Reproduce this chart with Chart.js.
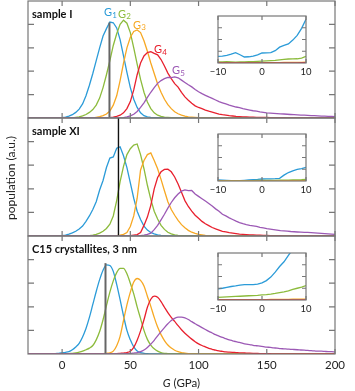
<!DOCTYPE html>
<html>
<head>
<meta charset="utf-8">
<script src="https://cdn.jsdelivr.net/npm/chart.js@4.4.1/dist/chart.umd.min.js"></script>
<style>
  html, body { margin: 0; padding: 0; background: #fff; }
  #wrap { position: relative; width: 355px; height: 391px; overflow: hidden; }
  canvas { position: absolute; }
</style>
</head>
<body>
<div id="wrap">
  <canvas id="p1"></canvas>
  <canvas id="p2"></canvas>
  <canvas id="p3"></canvas>
  <canvas id="i1"></canvas>
  <canvas id="i2"></canvas>
  <canvas id="i3"></canvas>
</div>
<script>
// grid of the histograms: G from -25 to 200 GPa, step 2.5
const gStart = -25, gEnd = 200, gStep = 2.5;
const xTickVals = [0, 50, 100, 150, 200];
const yTickVals = [1, 2, 3, 4];
const insetX = [-10, -9, -8, -7, -6, -5, -4, -3, -2, -1, 0, 1, 2, 3, 4, 5, 6, 7, 8, 9, 10];
const insetXTicks = [-10, 0, 10];
const insetYTicks = [1, 2, 3];

const panelNames = ["sample I", "sample XI", "C15 crystallites, 3 nm"];
const seriesNames = ["G1", "G2", "G3", "G4", "G5"];
const colors = ["#2b9bd8", "#8cbb3c", "#f7a823", "#e8202e", "#9c59b5"];

// vertical marker per panel (mean G1)
const markerG = [34.7, 41.3, 31.8];
const markerTop = [4.08, 5, 3.85];
const markerColor = ["#666", "#111", "#666"];

// --- sample I (start G of each array, then values every 2.5 GPa)
const s1Start = [0, 10, 25, 35, 45];
const s1G1 = [0.02,0.04,0.08,0.14,0.24,0.38,0.6,0.95,1.4,1.9,2.45,3.0,3.5,3.82,4.1,4.07,3.85,3.35,2.65,1.95,1.3,0.8,0.45,0.22,0.1,0.05,0.03,0.02,0.01];
const s1G2 = [0.03,0.05,0.09,0.15,0.24,0.36,0.55,0.85,1.3,1.85,2.45,3.1,3.6,4.0,4.18,4.05,3.65,3.0,2.3,1.65,1.1,0.68,0.4,0.22,0.12,0.07,0.04,0.03,0.02];
const s1G3 = [0.03,0.06,0.1,0.17,0.3,0.55,0.95,1.6,2.35,3.0,3.45,3.7,3.76,3.65,3.3,2.85,2.35,1.9,1.45,1.1,0.8,0.57,0.4,0.27,0.18,0.12,0.08,0.05,0.04,0.03,0.02];
const s1G4 = [0.02,0.04,0.07,0.12,0.22,0.4,0.7,1.2,1.85,2.35,2.65,2.8,2.83,2.76,2.7,2.5,2.22,1.92,1.68,1.47,1.32,1.1,0.9,0.76,0.63,0.52,0.45,0.4,0.34,0.29,0.25,0.21,0.17,0.14,0.12,0.1,0.085,0.07,0.06,0.05,0.045,0.04,0.035,0.03,0.03,0.025,0.025,0.02,0.02,0.015,0.015,0.01];
const s1G5 = [0.02,0.05,0.09,0.16,0.28,0.45,0.65,0.88,1.1,1.3,1.48,1.6,1.68,1.74,1.73,1.76,1.72,1.62,1.52,1.42,1.33,1.22,1.12,1.04,0.97,0.9,0.84,0.77,0.7,0.65,0.6,0.55,0.51,0.47,0.44,0.4,0.37,0.34,0.31,0.29,0.26,0.24,0.22,0.21,0.2,0.19,0.18,0.17,0.16,0.15,0.14,0.13,0.12,0.12,0.11,0.1,0.1,0.09,0.08,0.08,0.07,0.07,0.06];

// --- sample XI
const s2Start = [0, 20, 40, 50, 57.5];
const s2G1 = [0.02,0.04,0.08,0.13,0.2,0.3,0.42,0.62,0.85,1.12,1.45,1.95,2.35,2.9,3.3,3.35,3.72,3.78,3.4,2.9,2.25,1.6,1.05,0.7,0.42,0.25,0.15,0.09,0.05,0.03,0.02];
const s2G2 = [0.02,0.04,0.07,0.12,0.2,0.32,0.5,0.85,1.5,2.3,2.95,3.45,3.7,3.85,3.9,3.45,2.85,2.15,1.55,1.05,0.72,0.45,0.28,0.16,0.09,0.05,0.03,0.02];
const s2G3 = [0.02,0.04,0.07,0.15,0.4,0.85,1.6,2.8,3.2,3.45,3.52,3.2,2.85,2.4,1.92,1.45,1.12,0.88,0.66,0.48,0.35,0.24,0.16,0.11,0.07,0.05,0.03,0.02];
const s2G4 = [0.02,0.04,0.06,0.15,0.45,0.8,1.3,2.0,2.48,2.72,2.82,2.83,2.72,2.5,2.2,1.85,1.5,1.25,1.05,0.88,0.75,0.62,0.52,0.44,0.36,0.3,0.25,0.2,0.17,0.14,0.12,0.1,0.08,0.07,0.06,0.05,0.045,0.04,0.035,0.03,0.025,0.02,0.02,0.015,0.01];
const s2G5 = [0.02,0.04,0.07,0.12,0.27,0.45,0.68,0.92,1.18,1.42,1.62,1.78,1.9,1.95,1.92,1.93,1.78,1.68,1.58,1.48,1.38,1.27,1.15,1.05,0.92,0.85,0.77,0.7,0.63,0.57,0.52,0.48,0.45,0.43,0.41,0.37,0.34,0.31,0.29,0.27,0.25,0.23,0.22,0.21,0.19,0.18,0.17,0.16,0.15,0.15,0.14,0.13,0.12,0.11,0.1,0.09,0.08,0.07];

// --- C15 crystallites, 3 nm
const s3Start = [-5, 5, 25, 40, 45];
const s3G1 = [0.02,0.03,0.05,0.07,0.1,0.18,0.3,0.45,0.72,1.08,1.55,2.1,2.65,3.15,3.55,3.78,3.75,3.5,2.95,2.3,1.62,1.0,0.6,0.3,0.13,0.06,0.03,0.01];
const s3G2 = [0.02,0.03,0.05,0.08,0.12,0.18,0.25,0.36,0.6,0.95,1.45,2.05,2.62,3.1,3.45,3.63,3.63,3.4,3.0,2.55,2.0,1.5,1.0,0.62,0.38,0.22,0.12,0.06,0.03,0.02];
const s3G3 = [0.01,0.015,0.02,0.03,0.05,0.12,0.35,0.75,1.42,2.08,2.62,3.05,3.2,3.12,2.88,2.45,2.02,1.55,1.14,0.82,0.57,0.38,0.25,0.16,0.1,0.06,0.04,0.02];
const s3G4 = [0.02,0.03,0.04,0.06,0.12,0.28,0.58,0.98,1.45,1.98,2.32,2.45,2.4,2.22,1.98,1.75,1.55,1.38,1.2,1.03,0.88,0.75,0.63,0.52,0.43,0.36,0.3,0.24,0.2,0.16,0.13,0.11,0.09,0.08,0.07,0.06,0.05,0.045,0.04,0.035,0.03,0.025,0.02,0.02,0.015,0.01];
const s3G5 = [0.01,0.015,0.02,0.04,0.06,0.1,0.17,0.28,0.42,0.58,0.77,0.95,1.12,1.28,1.42,1.51,1.56,1.56,1.53,1.46,1.37,1.28,1.2,1.12,1.04,0.96,0.89,0.82,0.76,0.7,0.65,0.6,0.56,0.52,0.49,0.45,0.42,0.4,0.37,0.35,0.33,0.31,0.29,0.28,0.26,0.25,0.23,0.22,0.21,0.2,0.19,0.18,0.17,0.16,0.15,0.14,0.13,0.12,0.12,0.11,0.1,0.1,0.09];

// --- insets, G from -10 to 10 GPa
const in1G1 = [0.57,0.58,0.65,0.75,0.88,0.7,0.51,0.53,0.58,0.7,0.85,0.87,0.88,1.05,1.35,1.5,1.62,1.95,2.35,2.95,3.72];
const in1G2 = [0.09,0.1,0.12,0.1,0.08,0.09,0.1,0.11,0.12,0.14,0.16,0.18,0.2,0.22,0.26,0.3,0.34,0.35,0.36,0.42,0.57];
const in1G3 = [0.02,0.02,0.02,0.02,0.02,0.02,0.02,0.03,0.03,0.03,0.03,0.03,0.04,0.04,0.04,0.05,0.05,0.05,0.06,0.06,0.07];
const in1G4 = [0.01,0.01,0.01,0.01,0.01,0.01,0.01,0.01,0.01,0.01,0.01,0.01,0.01,0.01,0.01,0.01,0.01,0.01,0.01,0.02,0.02];

const in2G1 = [0.09,0.07,0.05,0.03,0.02,0.03,0.06,0.09,0.12,0.14,0.17,0.18,0.18,0.2,0.23,0.5,0.72,0.86,0.98,1.06,1.17];
const in2G2 = [0.03,0.03,0.03,0.03,0.03,0.03,0.04,0.04,0.04,0.05,0.05,0.05,0.06,0.06,0.07,0.08,0.08,0.09,0.1,0.11,0.13];
const in2G3 = [0.01,0.01,0.01,0.01,0.01,0.01,0.01,0.01,0.01,0.01,0.01,0.01,0.01,0.01,0.01,0.02,0.02,0.02,0.02,0.02,0.02];

const in3G1 = [0.94,1.0,1.08,1.15,1.2,1.26,1.3,1.31,1.31,1.36,1.46,1.65,1.95,2.37,2.85,3.25,3.8,4.3,4.9,5.5,6.2];
const in3G2 = [0.22,0.24,0.26,0.28,0.3,0.32,0.34,0.36,0.38,0.4,0.43,0.46,0.5,0.56,0.63,0.7,0.78,0.9,1.0,1.1,1.23];
const in3G3 = [0.02,0.02,0.02,0.02,0.03,0.03,0.03,0.03,0.04,0.04,0.04,0.04,0.05,0.05,0.05,0.06,0.06,0.07,0.07,0.08,0.08];
const in3G4 = [0.01,0.01,0.01,0.01,0.01,0.01,0.01,0.01,0.01,0.01,0.01,0.01,0.01,0.01,0.01,0.01,0.01,0.01,0.01,0.01,0.01];

Chart.defaults.font.family = "Lato, sans-serif";

// histogram values -> points, with the zero baseline on both sides
function curve(start, values) {
  const last = start + (values.length - 1) * gStep;
  const pts = [];
  if (start > gStart) pts.push({ x: gStart, y: 0 }, { x: start - gStep, y: 0 });
  values.forEach((v, i) => pts.push({ x: start + i * gStep, y: v }));
  if (last < gEnd) pts.push({ x: last + gStep, y: 0 }, { x: gEnd, y: 0 });
  return pts;
}

function frame(xt, yt, lenX, lenY, fill) {
  return {
    id: "frame",
    beforeDraw(chart) {
      if (!fill) return;
      const a = chart.chartArea, ctx = chart.ctx;
      ctx.save();
      ctx.fillStyle = "#fff";
      ctx.fillRect(a.left, a.top, a.width, a.height);
      ctx.restore();
    },
    afterDatasetsDraw(chart) {
      const { ctx, chartArea: a, scales: { x, y } } = chart;
      ctx.save();
      ctx.strokeStyle = "#777";
      ctx.lineWidth = 1.2;
      ctx.strokeRect(a.left, a.top, a.width, a.height);
      ctx.beginPath();
      xt.forEach(v => {
        const px = x.getPixelForValue(v);
        ctx.moveTo(px, a.bottom); ctx.lineTo(px, a.bottom - lenX);
        ctx.moveTo(px, a.top); ctx.lineTo(px, a.top + lenX);
      });
      yt.forEach(v => {
        const py = y.getPixelForValue(v);
        ctx.moveTo(a.left, py); ctx.lineTo(a.left + lenY, py);
        ctx.moveTo(a.right, py); ctx.lineTo(a.right - lenY, py);
      });
      ctx.stroke();
      ctx.restore();
    }
  };
}

function labels(n) {
  return {
    id: "labels",
    afterDraw(chart) {
      const { ctx, chartArea: a } = chart;
      ctx.save();
      ctx.fillStyle = "#111";
      ctx.textBaseline = "middle";
      ctx.font = "bold 11px Lato";
      ctx.fillText(panelNames[n], a.left + 4, a.top + 13.5);
      if (n === 0) {
        // G1..G5 tags next to the peaks
        const tags = [[104, 16], [118, 17.5], [133, 28.5], [154, 53], [172, 74]];
        ctx.textBaseline = "alphabetic";
        tags.forEach((t, i) => {
          ctx.fillStyle = colors[i];
          ctx.font = "11px Lato";
          ctx.fillText("G", t[0], t[1]);
          const w = ctx.measureText("G").width;
          ctx.font = "8px Lato";
          ctx.fillText(seriesNames[i].slice(1), t[0] + w + 0.3, t[1] + 1.5);
        });
      }
      if (n === 1) {
        ctx.fillStyle = "#222";
        ctx.font = "12px Lato";
        ctx.textAlign = "center";
        ctx.translate(11.5, 61);
        ctx.rotate(-Math.PI / 2);
        ctx.fillText("population (a.u.)", 0, 0);
      }
      if (n === 2) {
        ctx.fillStyle = "#222";
        ctx.textBaseline = "alphabetic";
        ctx.font = "italic 11.5px Lato";
        const w1 = ctx.measureText("G").width;
        ctx.font = "11.5px Lato";
        const w2 = ctx.measureText(" (GPa)").width;
        const x0 = (a.left + a.right) / 2 - (w1 + w2) / 2;
        ctx.font = "italic 11.5px Lato";
        ctx.fillText("G", x0, 151.5);
        ctx.font = "11.5px Lato";
        ctx.fillText(" (GPa)", x0 + w1, 151.5);
      }
      ctx.restore();
    }
  };
}

function mainPanel(id, n, top, height, starts, series, withAxis) {
  const cv = document.getElementById(id);
  cv.width = 355; cv.height = height;
  cv.style.left = "0px"; cv.style.top = top + "px";
  const datasets = [{
    data: [{ x: markerG[n], y: 0 }, { x: markerG[n], y: markerTop[n] }],
    borderColor: markerColor[n], borderWidth: n === 1 ? 1.4 : 2
  }];
  for (let i = series.length - 1; i >= 0; i--) {
    datasets.push({ data: curve(starts[i], series[i]), borderColor: colors[i], borderWidth: 1.3 });
  }
  return new Chart(cv, {
    type: "line",
    data: { datasets },
    options: {
      responsive: false, animation: false, devicePixelRatio: 1,
      layout: { padding: { left: 28, right: 20, top: 1, bottom: withAxis ? 0 : 1 } },
      plugins: { legend: { display: false }, tooltip: { enabled: false } },
      elements: {
        point: { radius: 0 },
        line: { tension: 0, cubicInterpolationMode: n === 2 ? "monotone" : "default" }
      },
      scales: {
        x: {
          type: "linear", min: gStart, max: gEnd, display: withAxis,
          afterBuildTicks: s => { s.ticks = xTickVals.map(v => ({ value: v })); },
          afterFit: s => { if (withAxis) s.height = 37; },
          grid: { display: false, drawTicks: false },
          border: { display: false },
          ticks: { font: { size: 11.5 }, color: "#222", padding: 4, maxRotation: 0, autoSkip: false }
        },
        y: { min: 0, max: 5, display: false }
      }
    },
    plugins: [frame(xTickVals, yTickVals, 5, 6, false), labels(n)]
  });
}

function inset(id, top, series) {
  const cv = document.getElementById(id);
  cv.width = 125; cv.height = 64;
  cv.style.left = "200px"; cv.style.top = top + "px";
  const datasets = [];
  for (let i = series.length - 1; i >= 0; i--) {
    datasets.push({ data: insetX.map((g, k) => ({ x: g, y: series[i][k] })), borderColor: colors[i], borderWidth: 1.3 });
  }
  return new Chart(cv, {
    type: "line",
    data: { datasets },
    options: {
      responsive: false, animation: false, devicePixelRatio: 1,
      layout: { padding: { left: 18, right: 19, top: 1, bottom: 0 } },
      plugins: { legend: { display: false }, tooltip: { enabled: false } },
      elements: { point: { radius: 0 }, line: { tension: 0 } },
      scales: {
        x: {
          type: "linear", min: -10, max: 10,
          afterBuildTicks: s => { s.ticks = insetXTicks.map(v => ({ value: v })); },
          afterFit: s => { s.height = 16; },
          grid: { display: false, drawTicks: false },
          border: { display: false },
          ticks: {
            font: { size: 9.5 }, color: "#222", padding: 3, maxRotation: 0, autoSkip: false,
            callback: v => (v < 0 ? "\u2212" + Math.abs(v) : String(v))
          }
        },
        y: { min: 0, max: 4, display: false }
      }
    },
    plugins: [frame(insetXTicks, insetYTicks, 4, 4, true)]
  });
}

mainPanel("p1", 0, 0, 119, s1Start, [s1G1, s1G2, s1G3, s1G4, s1G5], false);
mainPanel("p2", 1, 117, 120, s2Start, [s2G1, s2G2, s2G3, s2G4, s2G5], false);
mainPanel("p3", 2, 235, 156, s3Start, [s3G1, s3G2, s3G3, s3G4, s3G5], true);
inset("i1", 15, [in1G1, in1G2, in1G3, in1G4]);
inset("i2", 133, [in2G1, in2G2, in2G3]);
inset("i3", 252, [in3G1, in3G2, in3G3, in3G4]);
</script>
</body>
</html>
